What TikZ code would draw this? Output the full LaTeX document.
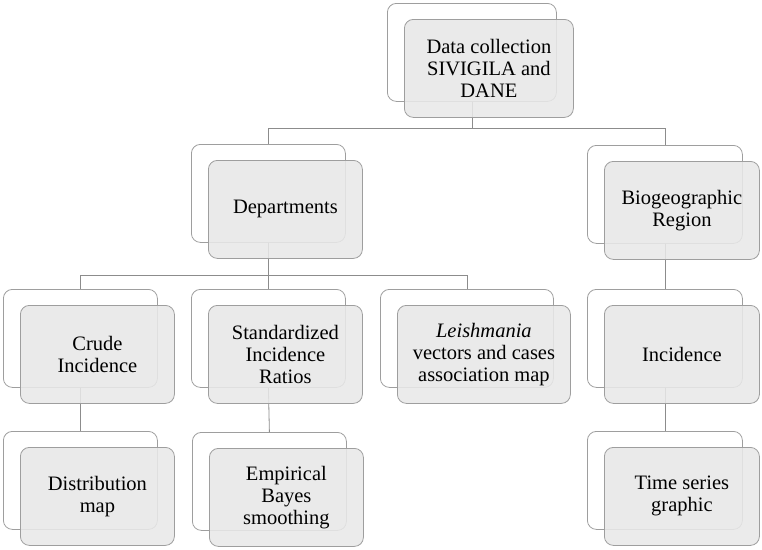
\documentclass[tikz,border=0pt]{standalone}
\usepackage{fontspec}
\setmainfont{Liberation Serif}
\begin{document}
\begin{tikzpicture}[x=1pt,y=-1pt,
  backbox/.style={draw=black!38,fill=white,rounded corners=9pt,line width=0.8pt,anchor=north west,inner sep=0pt,minimum height=98pt},
  frontbox/.style={draw=black!38,fill=black!9,fill opacity=0.88,text opacity=1,rounded corners=9pt,line width=0.8pt,anchor=north west,inner sep=0pt,minimum height=98pt,align=center,font=\fontsize{20.5pt}{22pt}\selectfont},
  conn/.style={draw=black!45,line width=0.8pt}]
\useasboundingbox (0,0) rectangle (762,549);
\newcommand\boxpair[5]{%
  \node[backbox,minimum width=#4 pt] (#1) at (#2,#3) {};
  \node[frontbox,minimum width=#4 pt] (#1f) at (#2+17,#3+16) {#5};}
% back boxes and front boxes
\begin{scope}
\node[backbox,minimum width=169pt] (top) at (387,3) {};
\node[backbox,minimum width=154pt] (dep) at (191,144) {};
\node[backbox,minimum width=155pt] (bio) at (587,145) {};
\node[backbox,minimum width=154pt] (crude) at (3,289) {};
\node[backbox,minimum width=154pt] (sir) at (191,289) {};
\node[backbox,minimum width=173pt] (leish) at (380,289) {};
\node[backbox,minimum width=155pt] (inc) at (587,289) {};
\node[backbox,minimum width=154pt] (dist) at (3,431) {};
\node[backbox,minimum width=154pt] (emp) at (192,432) {};
\node[backbox,minimum width=155pt] (ts) at (587,431) {};
\end{scope}
% connectors
\coordinate (j1) at (0,128);
\coordinate (j2) at (0,275);
\draw[conn] (top.south) -- (top.south |- j1) -| (dep.north);
\draw[conn] (top.south |- j1) -| (bio.north);
\draw[conn] (dep.south) -- (dep.south |- j2) -| (crude.north);
\draw[conn] (dep.south |- j2) -- (sir.north);
\draw[conn] (dep.south |- j2) -| (leish.north);
\draw[conn] (bio.south) -- (inc.north);
\draw[conn] (crude.south) -- (dist.north);
\draw[conn] (sir.south) -- (emp.north);
\draw[conn] (inc.south) -- (ts.north);
% front boxes
\node[frontbox,minimum width=169pt] (topf) at (404,19) {Data collection\\SIVIGILA and\\DANE};
\node[frontbox,minimum width=154pt] (depf) at (208,160) {Departments};
\node[frontbox,minimum width=155pt] (biof) at (604,161) {Biogeographic\\Region};
\node[frontbox,minimum width=154pt] (crudef) at (20,305) {Crude\\Incidence};
\node[frontbox,minimum width=154pt] (sirf) at (208,305) {Standardized\\Incidence\\Ratios};
\node[frontbox,minimum width=173pt] (leishf) at (397,305) {\textit{Leishmania}\\vectors and cases\\association map};
\node[frontbox,minimum width=155pt] (incf) at (604,305) {Incidence};
\node[frontbox,minimum width=154pt] (distf) at (20,447) {Distribution\\map};
\node[frontbox,minimum width=154pt] (empf) at (209,448) {Empirical\\Bayes\\smoothing};
\node[frontbox,minimum width=155pt] (tsf) at (604,447) {Time series\\graphic};
\end{tikzpicture}
\end{document}
